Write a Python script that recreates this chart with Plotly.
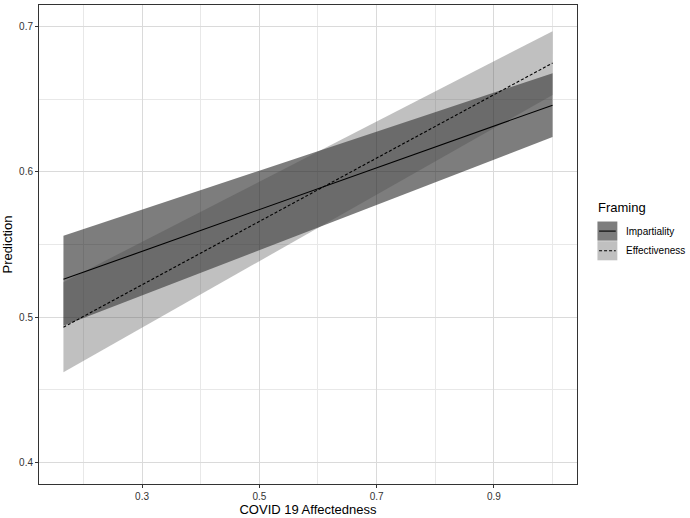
import plotly.graph_objects as go

# Data
affectedness = [0.166, 1.0]
imp_fit = [0.526, 0.646]
imp_low = [0.494, 0.624]
imp_high = [0.556, 0.668]
eff_fit = [0.493, 0.675]
eff_low = [0.462, 0.653]
eff_high = [0.524, 0.697]

x_ticks = [0.3, 0.5, 0.7, 0.9]
y_ticks = [0.4, 0.5, 0.6, 0.7]

imp_fill = "rgba(0,0,0,0.51)"
eff_fill = "rgba(75,75,75,0.35)"

fig = go.Figure()

def band(x, lo, hi, color):
    fig.add_trace(go.Scatter(x=x + x[::-1], y=hi + lo[::-1], fill="toself",
                             fillcolor=color, line=dict(width=0), mode="lines",
                             hoverinfo="skip", showlegend=False))

band(affectedness, imp_low, imp_high, imp_fill)
band(affectedness, eff_low, eff_high, eff_fill)
fig.add_trace(go.Scatter(x=affectedness, y=imp_fit, mode="lines",
                         line=dict(color="black", width=1.1), showlegend=False))
fig.add_trace(go.Scatter(x=affectedness, y=eff_fit, mode="lines",
                         line=dict(color="black", width=1.1, dash="3px,2px"), showlegend=False))

font = "Liberation Sans, Arial, sans-serif"
grid = "#dadada"
axis_common = dict(showline=True, linecolor="#333333", linewidth=1, mirror=True,
                   ticks="outside", ticklen=3, tickcolor="#333333",
                   gridcolor=grid, gridwidth=1, zeroline=False,
                   tickfont=dict(family=font, size=10, color="#333333"))

fig.update_xaxes(range=[0.1243, 1.0417], tickvals=x_ticks,
                 ticktext=[f"{v:.1f}" for v in x_ticks],
                 minor=dict(showgrid=True, tick0=0.2, dtick=0.2, gridcolor="#e8e8e8", gridwidth=0.6),
                 title=dict(text="COVID 19 Affectedness", font=dict(family=font, size=13, color="black"), standoff=3),
                 **axis_common)
fig.update_yaxes(range=[0.385, 0.715], tickvals=y_ticks,
                 ticktext=[f"{v:.1f}" for v in y_ticks],
                 minor=dict(showgrid=True, tick0=0.45, dtick=0.1, gridcolor="#e8e8e8", gridwidth=0.6),
                 title=dict(text="Prediction", font=dict(family=font, size=13, color="black"), standoff=5),
                 **axis_common)

# Legend drawn manually (ggplot-style keys)
legend_labels = ["Impartiality", "Effectiveness"]
legend_fills = [imp_fill, eff_fill]
legend_dash = ["solid", "dash"]
shapes = []
annotations = [dict(text="Framing", xref="paper", yref="paper", x=1.036, y=0.578,
                    xanchor="left", yanchor="middle", showarrow=False,
                    font=dict(family=font, size=13, color="black"))]
key_x0, key_x1 = 1.038, 1.075
key_tops = [0.548, 0.507]
key_h = 0.040
for lab, fc, ds, top in zip(legend_labels, legend_fills, legend_dash, key_tops):
    shapes.append(dict(type="rect", xref="paper", yref="paper", x0=key_x0, x1=key_x1,
                       y0=top - key_h, y1=top, fillcolor=fc, line=dict(width=0)))
    ym = top - key_h / 2
    shapes.append(dict(type="line", xref="paper", yref="paper", x0=key_x0 + 0.003, x1=key_x1 - 0.003,
                       y0=ym, y1=ym, line=dict(color="black", width=1.1,
                                               dash="solid" if ds == "solid" else "3px,2px")))
    annotations.append(dict(text=lab, xref="paper", yref="paper", x=key_x1 + 0.012, y=ym,
                            xanchor="left", yanchor="middle", showarrow=False,
                            font=dict(family=font, size=10, color="black")))

fig.update_layout(width=690, height=518, margin=dict(l=39, r=113, t=4, b=32),
                  plot_bgcolor="white", paper_bgcolor="white", showlegend=False,
                  shapes=shapes, annotations=annotations)

fig.write_html("out.html", config={"displayModeBar": False},
               post_script="document.body.style.margin='0';document.body.style.overflow='hidden';")
